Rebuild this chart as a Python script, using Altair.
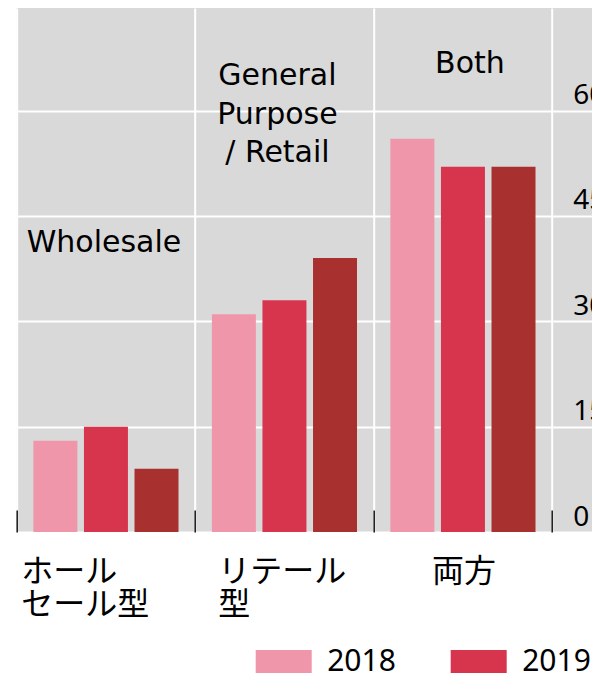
import altair as alt
import pandas as pd

# ---- data ----
categories = ["Wholesale", "General Purpose / Retail", "Both"]
years = ["2018", "2019", "2020"]
v2018 = [13, 31, 56]
v2019 = [15, 33, 52]
v2020 = [9, 39, 52]
colors = ["#F096AA", "#D7354D", "#A8312F"]

inner_labels = ["Wholesale", "General\nPurpose\n/ Retail", "Both"]
inner_label_at = [39.9, 63.6, 65.3]          # value where each label's first baseline sits
jp_labels = ["ホール\nセール型", "リテール\n型", "両方"]
y_ticks = [0, 15, 30, 45, 60]

rows = []
for yr, vals in zip(years, [v2018, v2019, v2020]):
    for c, v in zip(categories, vals):
        rows.append({"cat": c, "year": yr, "value": v})
bars_df = pd.DataFrame(rows)

W, H = 575.3, 524
BAND_SPAN = 714
x_scale = alt.Scale(domain=categories + [""], range=[0, BAND_SPAN], paddingInner=0, paddingOuter=0)
y_scale = alt.Scale(domain=[0, 74.6], nice=False, zero=True)

x_axis = alt.Axis(
    title=None, labels=False, domain=False, bandPosition=0,
    ticks=True, tickSize=22, tickColor="#222222", tickWidth=1.6, offset=-22,
    grid=True, gridColor="white", gridWidth=2,
)
y_axis = alt.Axis(
    title=None, values=y_ticks, domain=False, ticks=False, tickSize=0,
    grid=True, gridColor="white", gridWidth=2,
    labelAlign="left", labelPadding=-556, labelBaseline="alphabetic", labelOffset=-7,
    labelFont="Noto Sans", labelFontSize=28, labelColor="black",
)

bars = alt.Chart(bars_df).mark_bar().encode(
    x=alt.X("cat:N", scale=x_scale, axis=x_axis),
    xOffset=alt.XOffset("year:N", scale=alt.Scale(paddingInner=0.13, paddingOuter=0.33)),
    y=alt.Y("value:Q", scale=y_scale, axis=y_axis),
    color=alt.Color(
        "year:N",
        scale=alt.Scale(domain=years, range=colors),
        legend=alt.Legend(
            title=None, orient="none", legendX=239, legendY=625.5, direction="horizontal",
            symbolType="M-1,-0.41H1V0.41H-1Z", symbolSize=3136, symbolStrokeWidth=0,
            symbolOpacity=1, labelFont="Noto Sans", labelFontSize=30, labelColor="black",
            labelOffset=15.5, columnPadding=54, padding=0,
        ),
    ),
)

layers = [bars]

inner_dx = [-2, -7, 7]
for c, t, yv, dx in zip(categories, inner_labels, inner_label_at, inner_dx):
    df = pd.DataFrame({"cat": [c], "label": [t], "value": [yv]})
    layers.append(
        alt.Chart(df).mark_text(
            font="DejaVu Sans", fontSize=30, align="center", baseline="alphabetic",
            lineBreak="\n", lineHeight=38.5, dx=dx, color="black",
        ).encode(
            x=alt.X("cat:N", scale=x_scale, axis=x_axis),
            y=alt.Y("value:Q", scale=y_scale, axis=y_axis),
            text="label:N",
        )
    )

jp_dx = [-84.8, -66.2, -31]
for c, t, dx in zip(categories, jp_labels, jp_dx):
    df = pd.DataFrame({"cat": [c], "label": [t], "value": [0]})
    layers.append(
        alt.Chart(df).mark_text(
            font="Noto Sans CJK JP", fontSize=32, align="left", baseline="alphabetic",
            lineBreak="\n", lineHeight=33, dx=dx, dy=50, color="black",
        ).encode(
            x=alt.X("cat:N", scale=x_scale, axis=x_axis),
            y=alt.Y("value:Q", scale=y_scale, axis=y_axis),
            text="label:N",
        )
    )

chart = alt.layer(*layers).properties(
    width=W, height=H,
    autosize=alt.AutoSizeParams(type="none"),
    padding={"left": 8.7, "top": 0, "right": 0, "bottom": 141},
).configure_view(fill="#D9D9D9", stroke=None)

chart.save("out.html", embed_options={"renderer": "svg", "actions": False})
